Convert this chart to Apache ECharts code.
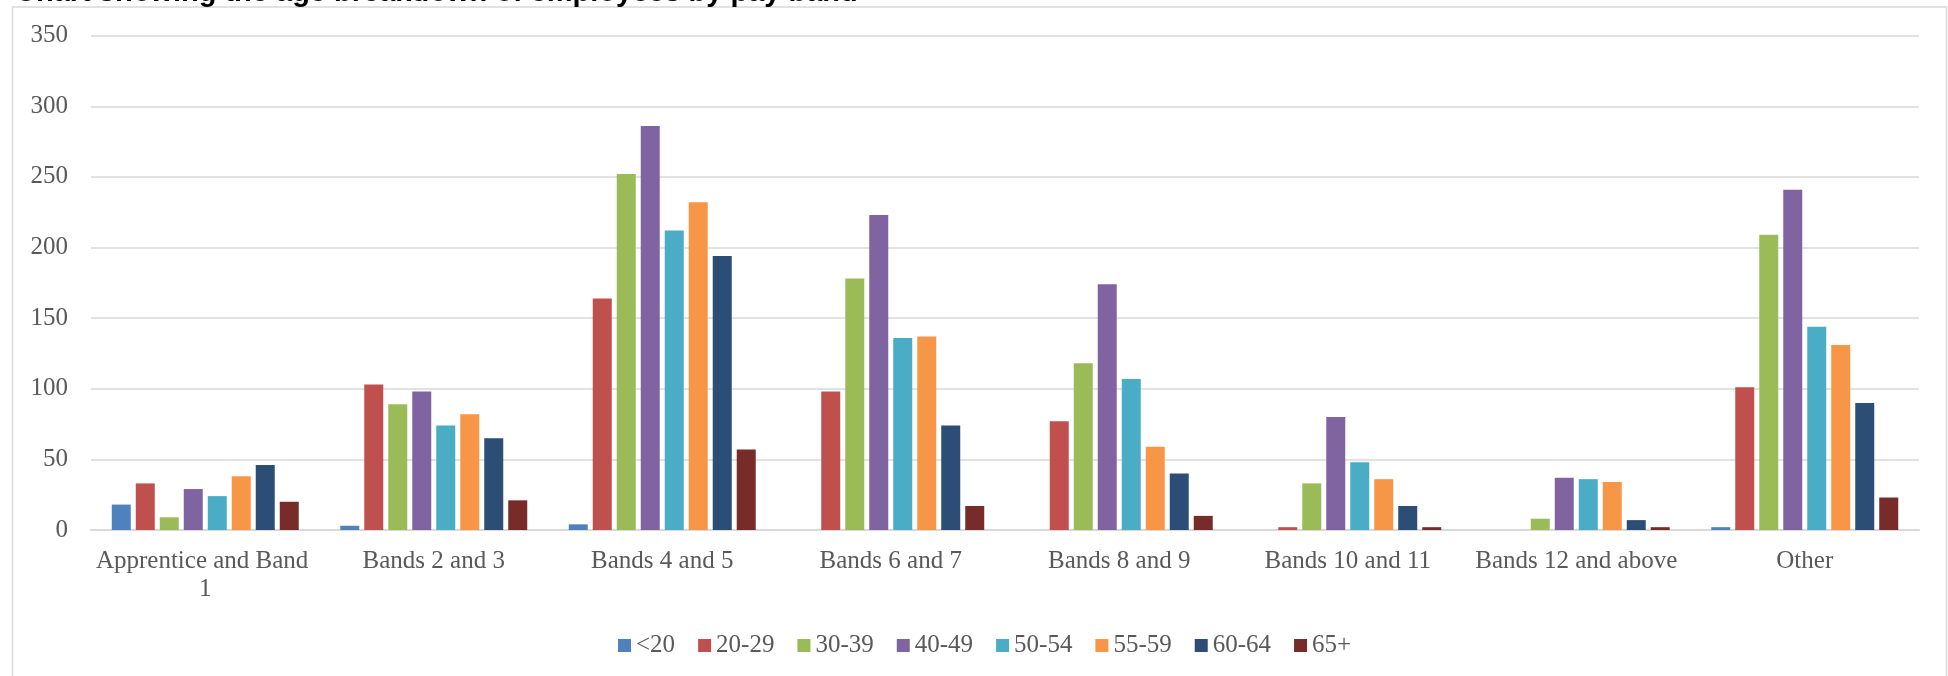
<!DOCTYPE html>
<html>
<head>
<meta charset="utf-8">
<script src="https://cdn.jsdelivr.net/npm/echarts@6/dist/echarts.min.js"></script>
<style>
html,body{margin:0;padding:0;background:#fff;}
#chart{width:1948px;height:676px;}
</style>
</head>
<body>
<div id="chart"></div>
<script>
var titleText = "Chart showing the age breakdown of employees by pay band";
var categories = ["Apprentice and Band 1","Bands 2 and 3","Bands 4 and 5","Bands 6 and 7","Bands 8 and 9","Bands 10 and 11","Bands 12 and above","Other"];
var ageGroups = ["<20","20-29","30-39","40-49","50-54","55-59","60-64","65+"];
var under20   = [18, 3,   4,   0,   0,   0,  0,   2];
var age20_29  = [33, 103, 164, 98,  77,  2,  0,   101];
var age30_39  = [9,  89,  252, 178, 118, 33, 8,   209];
var age40_49  = [29, 98,  286, 223, 174, 80, 37,  241];
var age50_54  = [24, 74,  212, 136, 107, 48, 36,  144];
var age55_59  = [38, 82,  232, 137, 59,  36, 34,  131];
var age60_64  = [46, 65,  194, 74,  40,  17, 7,   90];
var age65plus = [20, 21,  57,  17,  10,  2,  2,   23];
var yTicks = [0, 50, 100, 150, 200, 250, 300, 350];

var seriesValues = [under20, age20_29, age30_39, age40_49, age50_54, age55_59, age60_64, age65plus];
var colors = ["#4F81BD","#C0504D","#9BBB59","#8064A2","#4BACC6","#F79646","#2C4D75","#772C2A"];
var serif = "'Liberation Serif', 'DejaVu Serif', serif";

var chart = echarts.init(document.getElementById('chart'), null, {renderer: 'canvas'});
var series = ageGroups.map(function (name, i) {
  return {
    name: name,
    type: 'bar',
    data: seriesValues[i],
    barWidth: 19,
    barGap: '26.3%',
    itemStyle: {color: colors[i]}
  };
});

chart.setOption({
  animation: false,
  backgroundColor: '#ffffff',
  color: colors,
  title: {
    text: titleText,
    left: 15,
    top: -22,
    padding: 0,
    textStyle: {fontFamily: "'Liberation Sans', Arial, sans-serif", fontWeight: 'bold', fontSize: 29, color: '#000'}
  },
  graphic: [{
    type: 'rect',
    silent: true,
    z: -10,
    shape: {x: 12.5, y: 7, width: 1934, height: 720},
    style: {fill: 'none', stroke: '#d9d9d9', lineWidth: 1.5}
  }],
  legend: {
    data: ageGroups,
    left: 613,
    top: 628,
    itemWidth: 13,
    itemHeight: 13,
    itemGap: 23,
    icon: 'rect',
    textStyle: {fontFamily: serif, fontSize: 25, color: '#595959'}
  },
  grid: {left: 91, right: 29, top: 35.7, bottom: 146, containLabel: false},
  xAxis: {
    type: 'category',
    data: categories,
    axisTick: {show: false},
    axisLine: {show: true, lineStyle: {color: '#d9d9d9', width: 2}},
    axisLabel: {
      interval: 0,
      margin: 17,
      width: 222,
      overflow: 'break',
      lineHeight: 28,
      fontFamily: serif,
      fontSize: 25,
      color: '#595959'
    }
  },
  yAxis: {
    type: 'value',
    min: yTicks[0],
    max: yTicks[yTicks.length - 1],
    interval: 50,
    axisLine: {show: false},
    axisTick: {show: false},
    axisLabel: {margin: 23, fontFamily: serif, fontSize: 25, color: '#595959'},
    splitLine: {lineStyle: {color: '#d9d9d9', width: 1.5}}
  },
  series: series
});
</script>
</body>
</html>
